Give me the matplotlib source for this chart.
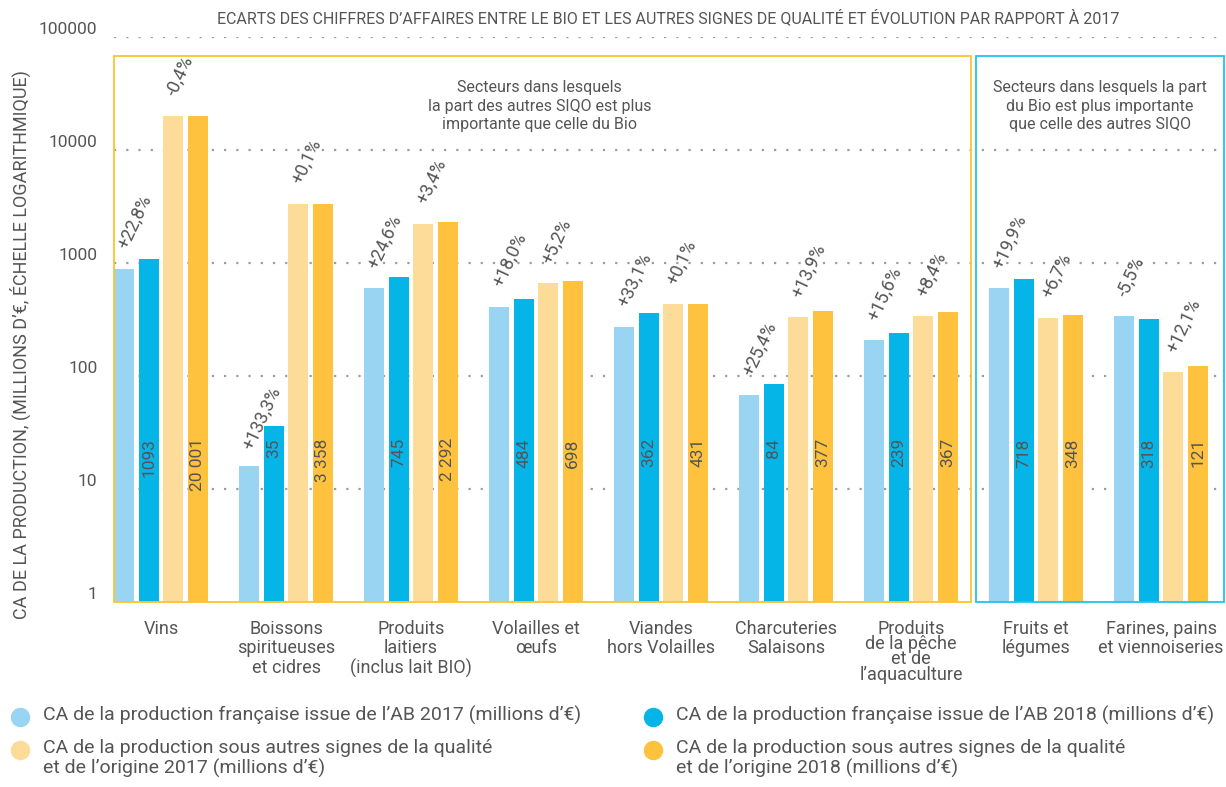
import numpy as np
import matplotlib
matplotlib.use("Agg")
import matplotlib.pyplot as plt
import matplotlib.transforms as mtransforms
from matplotlib.lines import Line2D
from matplotlib.patches import Rectangle


plt.rcParams["font.family"]=["Roboto","DejaVu Sans"]

GREY="#555555"

CATEGORIES=[
	"Vins",
	"Boissons\nspiritueuses\net cidres",
	"Produits\nlaitiers\n(inclus lait BIO)",
	"Volailles et\nœufs",
	"Viandes\nhors Volailles",
	"Charcuteries\nSalaisons",
	"Produits\nde la pêche\net de\nl’aquaculture",
	"Fruits et\nlégumes",
	"Farines, pains\net viennoiseries",
]
# CA, millions d'euros
AB_2017=[890,15,598,410,272,67,207,599,336]
AB_2018=[1093,35,745,484,362,84,239,718,318]
SIQO_2017=[20081,3355,2217,663,431,331,339,326,108]
SIQO_2018=[20001,3358,2292,698,431,377,367,348,121]
AB_LABELS=["1093","35","745","484","362","84","239","718","318"]
SIQO_LABELS=["20 001","3 358","2 292","698","431","377","367","348","121"]
AB_EVOL=["+22,8%","+133,3%","+24,6%","+18,0%","+33,1%","+25,4%","+15,6%","+19,9%","-5,5%"]
SIQO_EVOL=["-0,4%","+0,1%","+3,4%","+5,2%","+0,1%","+13,9%","+8,4%","+6,7%","+12,1%"]
YTICKS=[1,10,100,1000,10000,100000]

SERIES=[
	(AB_2017,"#99d5f3","CA de la production française issue de l’AB 2017 (millions d’€)"),
	(AB_2018,"#05b5e8","CA de la production française issue de l’AB 2018 (millions d’€)"),
	(SIQO_2017,"#fddc9a","CA de la production sous autres signes de la qualité\net de l’origine 2017 (millions d’€)"),
	(SIQO_2018,"#fec23f","CA de la production sous autres signes de la qualité\net de l’origine 2018 (millions d’€)"),
]

STEP=0.196
WIDTH=0.162

fig=plt.figure(figsize=(12.26,7.87),dpi=100)
ax=fig.add_axes([114/1226,1-602/787,(1224-114)/1226,(602-37)/787])
x=np.arange(len(CATEGORIES))

for k,(vals,color,_) in enumerate(SERIES):
	ax.bar(x+(k-1.5)*STEP,vals,WIDTH,bottom=1,color=color,zorder=2,linewidth=0)

ax.set_yscale("log")
ax.set_ylim(1,100000)
ax.set_xlim(-0.376,8.504)
ax.set_yticks(YTICKS)
ax.set_yticklabels([str(v) for v in YTICKS],fontsize=12.5,color=GREY,va="bottom")
ax.minorticks_off()
ax.tick_params(axis="y",length=0,pad=12)
ax.tick_params(axis="x",length=0,pad=13)
ax.set_xticks(x)
ax.set_xticklabels(CATEGORIES,fontsize=13,color=GREY,linespacing=1.1)
ax.get_xticklabels()[6].set_linespacing(0.8)
for s in ax.spines.values():
	s.set_visible(False)
for v in YTICKS[1:]:
	ax.axhline(v,color="#9a9ea3",linestyle=(0,(1,4.5)),linewidth=1.6,zorder=1)

trans=mtransforms.blended_transform_factory(ax.transData,ax.transAxes)

# values inside the 2018 bars
for i in range(len(CATEGORIES)):
	ax.text(x[i]-0.5*STEP,0.290,AB_LABELS[i],transform=trans,rotation=90,ha="center",va="top",fontsize=12.5,color=GREY,zorder=3)
	ax.text(x[i]+1.5*STEP,0.290,SIQO_LABELS[i],transform=trans,rotation=90,ha="center",va="top",fontsize=12.5,color=GREY,zorder=3)

# evolution labels
for i in range(len(CATEGORIES)):
	for xc,v,lab in ((x[i]-1.5*STEP,AB_2017[i],AB_EVOL[i]),(x[i]+0.5*STEP,SIQO_2017[i],SIQO_EVOL[i])):
		ax.annotate(lab,(xc,v),xytext=(6,17),textcoords="offset pixels",rotation=65,rotation_mode="anchor",ha="left",va="bottom",fontsize=13,color=GREY,zorder=3)

# sector boxes
ax.add_patch(Rectangle((-0.376,0),6.856,0.966,transform=trans,fill=False,edgecolor="#fec32e",linewidth=1.3,zorder=4,clip_on=False))
ax.add_patch(Rectangle((6.52,0),1.98,0.966,transform=trans,fill=False,edgecolor="#21c3ef",linewidth=1.3,zorder=4,clip_on=False))
ax.text(3.03,0.924,"Secteurs dans lesquels\nla part des autres SIQO est plus\nimportante que celle du Bio",transform=trans,ha="center",va="top",fontsize=11.5,color=GREY,linespacing=1.3)
ax.text(7.51,0.924,"Secteurs dans lesquels la part\ndu Bio est plus importante\nque celle des autres SIQO",transform=trans,ha="center",va="top",fontsize=11.5,color=GREY,linespacing=1.3)

fig.text(668/1226,1-18/787,"ECARTS DES CHIFFRES D’AFFAIRES ENTRE LE BIO ET LES AUTRES SIGNES DE QUALITÉ ET ÉVOLUTION PAR RAPPORT À 2017",ha="center",va="center",fontsize=11.5,color=GREY)
fig.text(20/1226,1-345/787,"CA DE LA PRODUCTION, (MILLIONS D’€, ÉCHELLE LOGARITHMIQUE)",rotation=90,ha="center",va="center",fontsize=13,color=GREY)

# legend
LEG_POS=[(20,717),(653,717),(20,750),(653,750)]
for (vals,color,label),(lx,ly) in zip(SERIES,LEG_POS):
	fig.add_artist(Line2D([lx/1226],[1-ly/787],marker="o",markersize=13,color=color,linestyle="none",transform=fig.transFigure))
	fig.text((lx+23)/1226,1-(ly-11)/787,label,ha="left",va="top",fontsize=14,color=GREY,linespacing=1.15)

fig.savefig("out.png",dpi=100)
